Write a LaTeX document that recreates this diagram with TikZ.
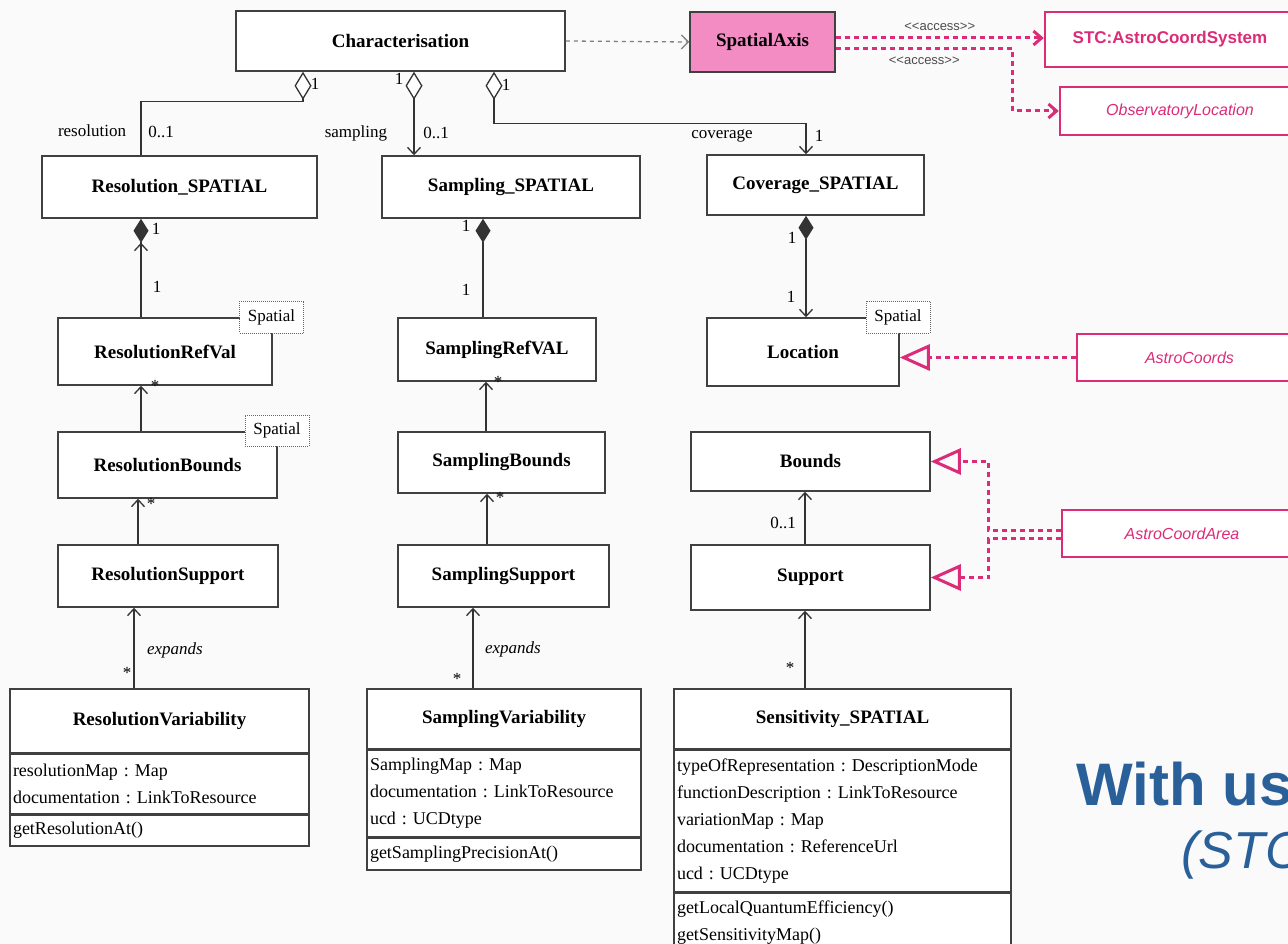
\documentclass[tikz,border=0pt]{standalone}
\usepackage{fontspec}
\setmainfont{Liberation Serif}
\newfontfamily\slidesans{Liberation Sans}
\usetikzlibrary{arrows.meta}
\definecolor{slidebg}{HTML}{FAFAFA}
\definecolor{stcpink}{HTML}{DC2C78}
\definecolor{axisfill}{HTML}{F28CC2}
\definecolor{titleblue}{HTML}{2A6099}
\frenchspacing

\begin{document}
\begin{tikzpicture}[
    x=1pt, y=-1pt,
    font=\fontsize{17}{20}\selectfont,
    boxdim/.style 2 args={minimum width=#1pt, minimum height=#2pt},
    umlklasse/.style={
        draw=black!75,
        line width=1.5pt,
        fill=white,
        inner sep=0pt,
        font=\fontsize{19}{23}\selectfont\bfseries
    },
    umlfeld/.style={
        draw=black!75,
        line width=1.5pt,
        fill=white,
        inner xsep=3pt,
        inner ysep=0pt,
        anchor=north west,
        align=left,
        font=\fontsize{18}{27}\selectfont
    },
    spatialtag/.style={
        draw=black!60,
        densely dotted,
        line width=1pt,
        fill=white,
        inner sep=0pt,
        minimum width=64pt,
        minimum height=32pt,
        font=\fontsize{17}{20}\selectfont
    },
    stcbox/.style={
        draw=stcpink,
        line width=2.5pt,
        fill=white,
        inner sep=0pt,
        text=stcpink,
        font=\slidesans\fontsize{16}{19}\selectfont\itshape
    },
    mult/.style={inner sep=0pt},
    assoc/.style={draw=black!80, line width=1.3pt},
    navi/.style={-{Straight Barb[length=7pt,width=13pt]}},
    aggr/.style={{Diamond[fill=white,length=28pt,width=17pt]}-},
    aggrnavi/.style={{Diamond[fill=white,length=28pt,width=17pt]}-{Straight Barb[length=7pt,width=13pt]}},
    komp/.style={{Diamond[length=24pt,width=15pt]}-},
    kompnavi/.style={{Diamond[length=24pt,width=15pt]}-{Straight Barb[length=7pt,width=13pt]}},
    dependency/.style={draw=black!50, line width=1.3pt, dash pattern=on 4pt off 4pt,
        -{Straight Barb[length=7pt,width=14pt]}},
    stcdep/.style={draw=stcpink, line width=3pt, dash pattern=on 5pt off 4pt},
    realize/.style={stcdep, -{Triangle[open,length=30pt,width=26pt]}},
    access/.style={inner sep=0pt, font=\slidesans\fontsize{13}{15}\selectfont, text=black!70}
]
    \useasboundingbox (0,0) rectangle (1288,944);
    \clip (0,0) rectangle (1288,944);
    \fill[slidebg] (0,0) rectangle (1288,944);

    \node[umlklasse, boxdim={329}{60}] (char) at (400.5,41) {Characterisation};
    \node[umlklasse, boxdim={145}{60}, fill=axisfill] (axis) at (762.5,42) {SpatialAxis};
    \node[stcbox, boxdim={250}{55}, font=\slidesans\fontsize{17}{20}\selectfont\bfseries]
        (astrosys) at (1170,39.5) {STC:AstroCoordSystem};
    \node[stcbox, boxdim={240}{48}] (obsloc) at (1180,111) {ObservatoryLocation};

    \node[umlklasse, boxdim={275}{62}] (ressp) at (179.5,187) {Resolution\_SPATIAL};
    \node[umlklasse, boxdim={258}{62}] (sampsp) at (511,187) {Sampling\_SPATIAL};
    \node[umlklasse, boxdim={217}{60}] (covsp) at (815.5,185) {Coverage\_SPATIAL};

    \node[umlklasse, boxdim={214}{67}] (resref) at (165,351.5) {ResolutionRefVal};
    \node[umlklasse, boxdim={198}{63}] (sampref) at (497,349.5) {SamplingRefVAL};
    \node[umlklasse, boxdim={192}{68}] (loc) at (803,352) {Location};
    \node[spatialtag] (resreftag) at (271.5,317) {Spatial};
    \node[spatialtag] (loctag) at (898,317) {Spatial};

    \node[umlklasse, boxdim={219}{66}] (resbnd) at (167.5,465) {ResolutionBounds};
    \node[umlklasse, boxdim={207}{61}] (sampbnd) at (501.5,462.5) {SamplingBounds};
    \node[umlklasse, boxdim={239}{59}] (bnd) at (810.5,461.5) {Bounds};
    \node[spatialtag, minimum height=31pt] (resbndtag) at (277,430.5) {Spatial};

    \node[umlklasse, boxdim={220}{62}] (ressup) at (168,576) {ResolutionSupport};
    \node[umlklasse, boxdim={211}{62}] (sampsup) at (503.5,576) {SamplingSupport};
    \node[umlklasse, boxdim={239}{65}] (sup) at (810.5,577.5) {Support};

    \node[stcbox, boxdim={225}{47}] (astrocoords) at (1189.5,357.5) {AstroCoords};
    \node[stcbox, boxdim={240}{47}] (coordarea) at (1182,533.5) {AstroCoordArea};

    \node[umlklasse, boxdim={299}{64}] (resvar) at (159.5,721) {ResolutionVariability};
    \node[umlfeld, boxdim={299}{59}, text width=293pt] (resvar-att) at (resvar.south west)
        {resolutionMap : Map\\documentation : LinkToResource};
    \node[umlfeld, boxdim={299}{31}, text width=293pt] (resvar-op) at (resvar-att.south west)
        {getResolutionAt()};

    \node[umlklasse, boxdim={274}{60}] (sampvar) at (504,719) {SamplingVariability};
    \node[umlfeld, boxdim={274}{86}, text width=268pt] (sampvar-att) at (sampvar.south west)
        {SamplingMap : Map\\documentation : LinkToResource\\ucd : UCDtype};
    \node[umlfeld, boxdim={274}{32}, text width=268pt] (sampvar-op) at (sampvar-att.south west)
        {getSamplingPrecisionAt()};

    \node[umlklasse, boxdim={337}{60}] (sens) at (842.5,719) {Sensitivity\_SPATIAL};
    \node[umlfeld, boxdim={337}{141}, text width=331pt] (sens-att) at (sens.south west)
        {typeOfRepresentation : DescriptionMode\\functionDescription : LinkToResource\\
         variationMap : Map\\documentation : ReferenceUrl\\ucd : UCDtype};
    \node[umlfeld, boxdim={337}{60}, text width=331pt] (sens-op) at (sens-att.south west)
        {getLocalQuantumEfficiency()\\getSensitivityMap()};

    \draw[dependency] (char.east) -- (axis.west);
    \draw[stcdep, -{Straight Barb[length=8pt,width=14pt]}] ([yshift=4pt]axis.east)
        -- node[access, above=6pt] {<{}<access>{}>} ([yshift=1.5pt]astrosys.west);
    \draw[stcdep, -{Straight Barb[length=8pt,width=14pt]}] ([yshift=-7pt]axis.east)
        -- node[access, below=6pt] {<{}<access>{}>} ++(177,0) |- (obsloc.west);

    \draw[assoc, aggr] ([xshift=-97.5pt]char.south) -- ++(0,30) -| ([xshift=-38.5pt]ressp.north);
    \draw[assoc, aggrnavi] ([xshift=13.5pt]char.south) -- ([xshift=-97pt]sampsp.north);
    \draw[assoc, aggrnavi] ([xshift=93.5pt]char.south) -- ++(0,52) -| ([xshift=-9.5pt]covsp.north);
    \node[mult] (m-char-res) at (315,84) {1};
    \node[mult] (l-res) at (92,131) {resolution};
    \node[mult] (m-res) at (161,132) {0..1};
    \node[mult] (m-char-samp) at (399,79) {1};
    \node[mult] (l-samp) at (356,133) {sampling};
    \node[mult] (m-samp) at (436,133) {0..1};
    \node[mult] (m-char-cov) at (506,85) {1};
    \node[mult] (l-cov) at (722,136) {coverage};
    \node[mult] (m-cov) at (819,136) {1};

    \draw[assoc, komp] ([xshift=-38.5pt]ressp.south) -- ([xshift=-24pt]resref.north);
    \draw[assoc, navi] ([xshift=-24pt]resref.north) -- ([xshift=-38.5pt,yshift=-24pt]ressp.south);
    \draw[assoc, komp] ([xshift=-28pt]sampsp.south) -- ([xshift=-14pt]sampref.north);
    \draw[assoc, kompnavi] ([xshift=-9.5pt]covsp.south) -- ([xshift=3pt]loc.north);
    \node[mult] (m-ressp) at (156,229) {1};
    \node[mult] (m-resref) at (157,287) {1};
    \node[mult] (m-sampsp) at (466,226) {1};
    \node[mult] (m-sampref) at (466,290) {1};
    \node[mult] (m-covsp) at (792,238) {1};
    \node[mult] (m-loc) at (791,297) {1};

    \draw[assoc, navi] ([xshift=-26.5pt]resbnd.north) -- ([xshift=-24pt]resref.south);
    \draw[assoc, navi] ([xshift=-15.5pt]sampbnd.north) -- ([xshift=-11pt]sampref.south);
    \draw[assoc, navi] ([xshift=-30pt]ressup.north) -- ([xshift=-29.5pt]resbnd.south);
    \draw[assoc, navi] ([xshift=-16.5pt]sampsup.north) -- ([xshift=-14.5pt]sampbnd.south);
    \draw[assoc, navi] ([xshift=-5.5pt]sup.north) -- ([xshift=-5.5pt]bnd.south);
    \node[mult] (m-resref-b) at (155,386) {*};
    \node[mult] (m-sampref-b) at (498,382) {*};
    \node[mult] (m-resbnd) at (151,504) {*};
    \node[mult] (m-sampbnd) at (500,498) {*};
    \node[mult] (m-bnd) at (783,523) {0..1};

    \draw[assoc, navi] ([xshift=-25.5pt]resvar.north) -- ([xshift=-34pt]ressup.south);
    \draw[assoc, navi] ([xshift=-31pt]sampvar.north) -- ([xshift=-30.5pt]sampsup.south);
    \draw[assoc, navi] ([xshift=-37.5pt]sens.north) -- ([xshift=-5.5pt]sup.south);
    \node[mult] (m-resvar) at (127,673) {*};
    \node[mult, font=\fontsize{17}{20}\selectfont\itshape] (l-resvar) at (175,650) {expands};
    \node[mult] (m-sampvar) at (457,679) {*};
    \node[mult, font=\fontsize{17}{20}\selectfont\itshape] (l-sampvar) at (513,649) {expands};
    \node[mult] (m-sens) at (790,668) {*};

    \draw[realize] (astrocoords.west) -- (loc.east |- astrocoords.west);
    \draw[realize] ([yshift=3pt]coordarea.west) -- ++(-72,0) |- (bnd.east);
    \draw[realize] ([yshift=-5pt]coordarea.west) -- ++(-72,0) |- (sup.east);

    \node[anchor=base west, text=titleblue, font=\slidesans\fontsize{60}{66}\selectfont\bfseries]
        (withus) at (1073,805) {With us};
    \node[anchor=base west, text=titleblue, font=\slidesans\fontsize{52}{58}\selectfont\itshape]
        (stcnote) at (1178,868) {(STC};
\end{tikzpicture}
\end{document}
